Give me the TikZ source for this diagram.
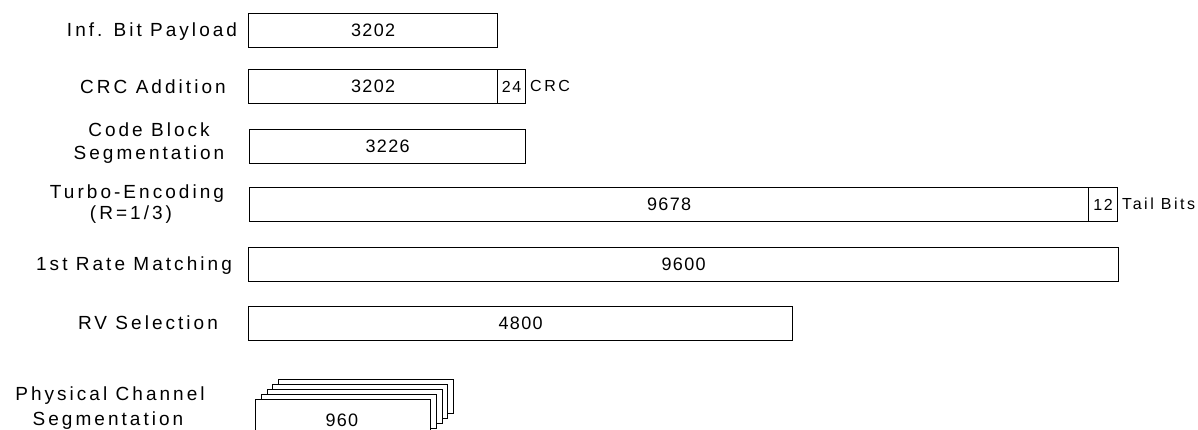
\documentclass[tikz,border=0pt]{standalone}
\usepackage{fontspec}
\setmainfont{Liberation Sans}
\newfontfamily\lblfont[LetterSpace=16]{Liberation Sans}
\newfontfamily\numfont[LetterSpace=7]{Liberation Sans}
\newfontfamily\smlfont[LetterSpace=10]{Liberation Sans}
\begin{document}
\begin{tikzpicture}[x=1pt,y=-1pt,
  bar/.style={draw, line width=1.3pt, fill=white, rectangle, anchor=north west,
    minimum height=34pt, inner sep=0pt, font=\numfont\fontsize{18}{20}\selectfont},
  smallbar/.style={bar, font=\smlfont\fontsize{16}{18}\selectfont},
  lbl/.style={inner sep=0pt, font=\lblfont\fontsize{19}{22}\selectfont},
  side/.style={inner sep=0pt, anchor=west, font=\lblfont\fontsize{16}{18}\selectfont}]
\useasboundingbox (0,0) rectangle (1198,429);
% labels
\node[lbl] (l1) at (152,32) {Inf. Bit Payload};
\node[lbl] (l2) at (153,87) {CRC Addition};
\node[lbl] (l3a) at (149,130) {Code Block};
\node[lbl] (l3b) at (149,155) {Segmentation};
\node[lbl] (l4a) at (137,194) {Turbo-Encoding};
\node[lbl] (l4b) at (131,215) {(R=1/3)};
\node[lbl] (l5) at (134,266) {1st Rate Matching};
\node[lbl] (l6) at (148,323) {RV Selection};
\node[lbl] (l7a) at (110,396) {Physical Channel};
\node[lbl] (l7b) at (108,421) {Segmentation};
% bars
\node[bar, minimum width=249pt] (b1) at (248,13) {3202};
\node[bar, minimum width=249pt] (b2) at (248,69) {3202};
\node[smallbar, minimum width=28pt] (c2) at (497,69) {24};
\node[side] (t2) at (530,86) {CRC};
\node[bar, minimum width=276pt] (b3) at (249,129) {3226};
\node[bar, minimum width=839pt] (b4) at (249,187) {9678};
\node[smallbar, minimum width=29pt] (c4) at (1088,187) {12};
\node[side] (t4) at (1122,204) {Tail Bits};
\node[bar, minimum width=870pt] (b5) at (248,247) {9600};
\node[bar, minimum width=544pt] (b6) at (248,306) {4800};
% stacked segments
\node[bar, minimum width=175pt] (s5) at (278,379) {};
\node[bar, minimum width=175pt] (s4) at (272,384) {};
\node[bar, minimum width=175pt] (s3) at (267,389) {};
\node[bar, minimum width=175pt] (s2) at (261,394) {};
\node[bar, minimum width=175pt] (s1) at (255,399) {};
\node[inner sep=0pt, font=\numfont\fontsize{18}{20}\selectfont] (n7) at (342,420) {960};
\end{tikzpicture}
\end{document}
